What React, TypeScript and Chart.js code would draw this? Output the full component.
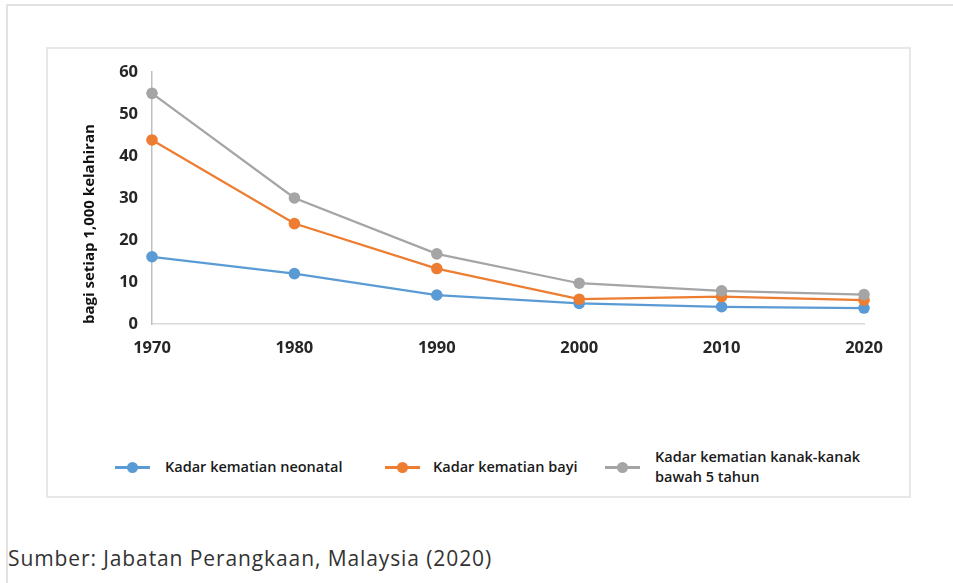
import React, { useEffect, useRef } from "react";
import { Chart, registerables } from "chart.js";

Chart.register(...registerables);

const years = ["1970", "1980", "1990", "2000", "2010", "2020"];
const neonatal = [16, 12, 6.9, 4.9, 4.1, 3.8];
const bayi = [43.8, 23.9, 13.2, 5.9, 6.5, 5.7];
const bawah5 = [54.9, 30, 16.7, 9.7, 7.9, 7];
const seriesNames = [
  ["Kadar kematian neonatal"],
  ["Kadar kematian bayi"],
  ["Kadar kematian kanak-kanak", "bawah 5 tahun"],
];
const seriesColors = ["#5B9BD5", "#ED7D31", "#A5A5A5"];
const yTicks = [0, 10, 20, 30, 40, 50, 60];
const yTitle = "bagi setiap 1,000 kelahiran";
const sourceText = "Sumber: Jabatan Perangkaan, Malaysia (2020)";

const FONT = "'Open Sans', 'DejaVu Sans', sans-serif";

export default function App() {
  const canvasRef = useRef<HTMLCanvasElement | null>(null);

  useEffect(() => {
    if (!canvasRef.current) return;
    const values = [neonatal, bayi, bawah5];
    const chart = new Chart(canvasRef.current, {
      type: "line",
      data: {
        labels: years,
        datasets: values.map((v, i) => ({
          label: seriesNames[i].join(" "),
          data: v,
          borderColor: seriesColors[i],
          backgroundColor: seriesColors[i],
          pointBackgroundColor: seriesColors[i],
          pointBorderColor: seriesColors[i],
          borderWidth: 2.25,
          pointRadius: 5.8,
          pointBorderWidth: 0,
          tension: 0,
          clip: false as any,
          order: 3 - i,
        })),
      },
      options: {
        animation: false,
        responsive: false,
        maintainAspectRatio: false,
        layout: { padding: { left: 30, right: 45, top: 18, bottom: 16 } },
        plugins: {
          legend: { display: false },
          tooltip: { enabled: false },
        },
        scales: {
          x: {
            type: "category",
            offset: false,
            grid: { display: false, drawTicks: false },
            border: { display: true, color: "#d9d9d9", width: 1.5 },
            ticks: {
              padding: 14,
              color: "#262626",
              font: { family: FONT, size: 16.5, weight: "bold" },
              maxRotation: 0,
            },
            afterFit: (s: any) => {
              s.height = 40;
            },
          },
          y: {
            min: yTicks[0],
            max: yTicks[yTicks.length - 1],
            afterBuildTicks: (s: any) => {
              s.ticks = yTicks.map((v) => ({ value: v }));
            },
            grid: { display: false, drawTicks: false },
            border: { display: true, color: "#bfbfbf", width: 1.5 },
            ticks: {
              padding: 14,
              color: "#262626",
              font: { family: FONT, size: 16.5, weight: "bold" },
            },
            title: {
              display: true,
              text: yTitle,
              align: "start",
              color: "#111111",
              font: { family: FONT, size: 15, weight: "bold" },
              padding: { top: 4, bottom: 4 },
            },
            afterFit: (s: any) => {
              s.width = 75;
            },
          },
        },
      },
    });
    return () => chart.destroy();
  }, []);

  const legendItems = [
    { marker: 115, text: 165 },
    { marker: 385, text: 433 },
    { marker: 605, text: 655 },
  ];

  return (
    <div
      style={{
        position: "absolute",
        left: 0,
        top: 0,
        width: 953,
        height: 583,
        overflow: "hidden",
        background: "#ffffff",
        fontFamily: FONT,
      }}
    >
      <div
        style={{
          position: "absolute",
          left: 6,
          top: 4,
          width: 980,
          height: 620,
          borderTop: "2px solid #e2e2e2",
          borderLeft: "2px solid #e2e2e2",
        }}
      />
      <div
        style={{
          position: "absolute",
          left: 46,
          top: 47,
          width: 861,
          height: 447,
          border: "2px solid #e8e8e8",
        }}
      />
      <canvas
        ref={canvasRef}
        width={862}
        height={332}
        style={{ position: "absolute", left: 47, top: 48, width: 862, height: 332 }}
      />
      {legendItems.map((it, i) => (
        <React.Fragment key={i}>
          <div
            style={{
              position: "absolute",
              left: it.marker,
              top: 466,
              width: 35,
              height: 2.5,
              background: seriesColors[i],
            }}
          />
          <div
            style={{
              position: "absolute",
              left: it.marker + 12,
              top: 461.5,
              width: 11,
              height: 11,
              borderRadius: "50%",
              background: seriesColors[i],
            }}
          />
          <div
            style={{
              position: "absolute",
              left: it.text,
              top: 467 - (seriesNames[i].length * 20) / 2,
              fontSize: 14.5,
              fontWeight: 600,
              lineHeight: "20px",
              color: "#1a1a1a",
              whiteSpace: "nowrap",
            }}
          >
            {seriesNames[i].map((l, j) => (
              <div key={j}>{l}</div>
            ))}
          </div>
        </React.Fragment>
      ))}
      <div
        style={{
          position: "absolute",
          left: 8,
          top: 543,
          fontSize: 21,
          letterSpacing: 0.9,
          lineHeight: "30px",
          color: "#333333",
          whiteSpace: "nowrap",
        }}
      >
        {sourceText}
      </div>
    </div>
  );
}
